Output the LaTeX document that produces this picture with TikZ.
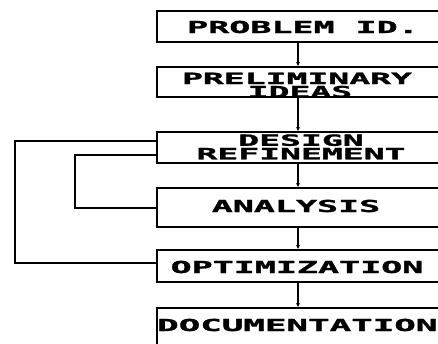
\documentclass[tikz,border=0pt]{standalone}
\usepackage{fontspec}
\usepackage{graphicx}
\usetikzlibrary{arrows.meta}
\newfontfamily\plotfont[BoldFeatures={FakeBold=1.2}]{DejaVu Sans Mono}
% wide plotter-style lettering: #1 horizontal stretch, #2 size, #3 text
\newcommand\ptextsz[3]{\scalebox{#1}[1]{\plotfont\bfseries\fontsize{#2}{#2}\selectfont #3}}
\newcommand\ptextx[2]{\ptextsz{#1}{16.5}{#2}}
\newcommand\ptext[1]{\ptextx{2.12}{#1}}
\newcommand\ptextsm[1]{\ptextsz{2.24}{15.5}{#1}}
\begin{document}
\begin{tikzpicture}[x=1pt,y=-1pt,
  box/.style={draw,line width=2.2pt,rectangle,minimum width=285pt,inner sep=0pt},
  lbl/.style={inner sep=0pt,anchor=base},
  flow/.style={line width=1.8pt,-{Stealth[length=4pt,width=4pt]}},
  loopline/.style={line width=2.2pt}]
\useasboundingbox (0,0) rectangle (438,343);
\clip (0,0) rectangle (438,343);
\fill[white] (0,0) rectangle (438,343);

% process boxes (right ends run past the sheet edge)
\node[box,minimum height=31pt] (b1) at (299.5,26.5) {};
\node[box,minimum height=30pt] (b2) at (299.5,82) {};
\node[box,minimum height=31pt] (b3) at (299.5,147.5) {};
\node[box,minimum height=39pt] (b4) at (299.5,207.5) {};
\node[box,minimum height=32pt] (b5) at (299.5,266) {};
\node[box,minimum height=42pt] (b6) at (299.5,329) {};

% labels
\node[lbl] (t1) at (303,33) {\ptext{PROBLEM ID.}};
\node[lbl] (t2a) at (297,84) {\ptextsm{PRELIMINARY}};
\node[lbl] (t2b) at (300,97.3) {\ptextsm{IDEAS}};
\node[lbl] (t3a) at (301,145.8) {\ptextsm{DESIGN}};
\node[lbl] (t3b) at (301,159.3) {\ptextsm{REFINEMENT}};
\node[lbl] (t4) at (296,212) {\ptext{ANALYSIS}};
\node[lbl] (t5) at (297,273) {\ptext{OPTIMIZATION}};
\node[lbl,anchor=base west] (t6) at (157,331) {\ptextx{2.17}{DOCUMENTATION}};

% main flow
\coordinate (cx) at (298,0);
\draw[flow] (b1.south -| cx) -- (b2.north -| cx);
\draw[flow] (b2.south -| cx) -- (b3.north -| cx);
\draw[flow] (b3.south -| cx) -- (b4.north -| cx);
\draw[flow] (b4.south -| cx) -- (b5.north -| cx);
\draw[flow] (b5.south -| cx) -- (b6.north -| cx);

% feedback loops
\coordinate (outerB) at (15,263);
\coordinate (outerT) at (15,141);
\coordinate (innerB) at (75,208);
\coordinate (innerT) at (75,155);
\draw[loopline] (b5.west |- outerB) -- (outerB) -- (outerT) -- (b3.west |- outerT);
\draw[loopline] (b4.west |- innerB) -- (innerB) -- (innerT) -- (b3.west |- innerT);
\end{tikzpicture}
\end{document}
